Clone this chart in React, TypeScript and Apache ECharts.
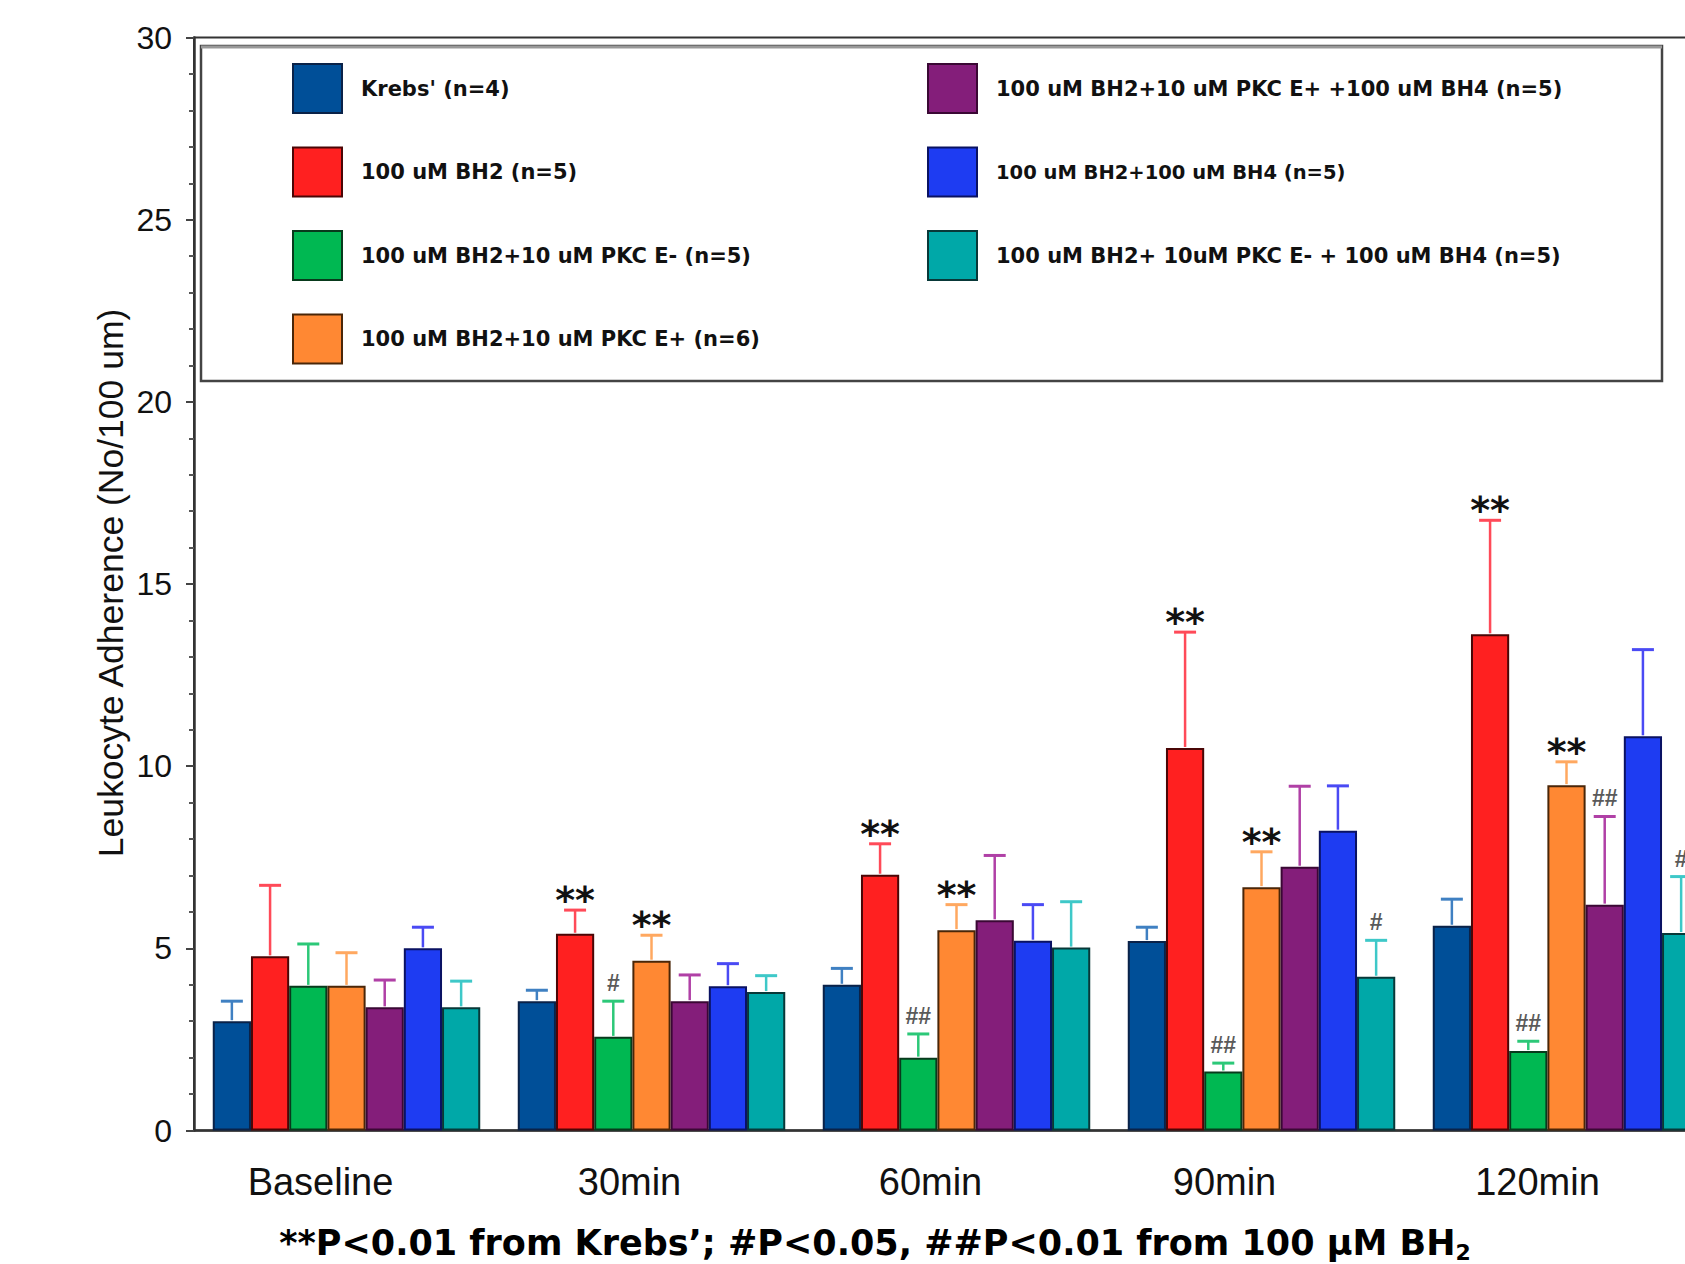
import React, { useEffect, useRef } from 'react';
import * as echarts from 'echarts';

const categories = ['Baseline', '30min', '60min', '90min', '120min'];

const seriesNames = [
  "Krebs' (n=4)",
  '100 uM BH2 (n=5)',
  '100 uM BH2+10 uM PKC E- (n=5)',
  '100 uM BH2+10 uM PKC E+ (n=6)',
  '100 uM BH2+10 uM PKC E+ +100 uM BH4 (n=5)',
  '100 uM BH2+100 uM BH4 (n=5)',
  '100 uM BH2+ 10uM PKC E- + 100 uM BH4 (n=5)',
];

// means
const krebs = [3.0, 3.55, 4.0, 5.2, 5.62];
const bh2 = [4.78, 5.4, 7.02, 10.5, 13.62];
const pkcMinus = [3.97, 2.57, 2.0, 1.62, 2.18];
const pkcPlus = [3.97, 4.66, 5.5, 6.68, 9.48];
const pkcPlusBH4 = [3.38, 3.55, 5.77, 7.24, 6.2];
const bh4 = [5.0, 3.96, 5.21, 8.23, 10.82];
const pkcMinusBH4 = [3.38, 3.8, 5.02, 4.22, 5.42];

// upper error (SD)
const krebsErr = [0.55, 0.3, 0.45, 0.38, 0.73];
const bh2Err = [1.95, 0.65, 0.85, 3.18, 3.13];
const pkcMinusErr = [1.15, 0.98, 0.65, 0.23, 0.27];
const pkcPlusErr = [0.91, 0.7, 0.7, 0.97, 0.64];
const pkcPlusBH4Err = [0.75, 0.72, 1.78, 2.21, 2.42];
const bh4Err = [0.58, 0.62, 0.99, 1.23, 2.38];
const pkcMinusBH4Err = [0.72, 0.45, 1.26, 1.0, 1.55];

// significance marks
const krebsNotes = ['', '', '', '', ''];
const bh2Notes = ['', '**', '**', '**', '**'];
const pkcMinusNotes = ['', '#', '##', '##', '##'];
const pkcPlusNotes = ['', '**', '**', '**', '**'];
const pkcPlusBH4Notes = ['', '', '', '', '##'];
const bh4Notes = ['', '', '', '', ''];
const pkcMinusBH4Notes = ['', '', '', '#', '#'];

const barColors = ['#004f98', '#ff2020', '#00b852', '#ff8833', '#841e7a', '#1e3cf2', '#00a8a8'];
const borderColors = ['#0a2248', '#4a0606', '#083a1c', '#4a2608', '#3a0834', '#0a1262', '#083838'];
const errColors = ['#3f80c2', '#ff4a58', '#2cc878', '#ffa860', '#b040a6', '#4a4af4', '#3ec8c8'];

// how far each category label sits left of its group centre (px)
const labelShift = [26, 22, 26, 37, 29];

const CAT_GAP = 0.123;

export default function App() {
  const ref = useRef<HTMLDivElement>(null);

  useEffect(() => {
    if (!ref.current) return;
    const chart = echarts.init(ref.current, null, { renderer: 'svg' });

    const means = [krebs, bh2, pkcMinus, pkcPlus, pkcPlusBH4, bh4, pkcMinusBH4];
    const errs = [krebsErr, bh2Err, pkcMinusErr, pkcPlusErr, pkcPlusBH4Err, bh4Err, pkcMinusBH4Err];
    const notes = [krebsNotes, bh2Notes, pkcMinusNotes, pkcPlusNotes, pkcPlusBH4Notes, bh4Notes, pkcMinusBH4Notes];
    const nSeries = means.length;

    const errData: number[][] = [];
    for (let s = 0; s < nSeries; s++) {
      for (let c = 0; c < categories.length; c++) {
        errData.push([c, means[s][c], means[s][c] + errs[s][c], s]);
      }
    }

    const font = "'Liberation Sans', Arial, sans-serif";
    const wideBold = "'DejaVu Sans', 'Liberation Sans', Arial, sans-serif";

    const barSeries = means.map((d, i) => ({
      type: 'bar',
      name: seriesNames[i],
      data: d,
      barGap: '0%',
      barCategoryGap: (CAT_GAP * 100).toFixed(1) + '%',
      itemStyle: { color: barColors[i], borderColor: borderColors[i], borderWidth: 2 },
      emphasis: { disabled: true },
    }));

    const legendText = {
      fontFamily: wideBold,
      fontWeight: 'bold',
      fontSize: 21,
      color: '#111',
      padding: [0, 0, 0, 14],
    };

    const labelRich: any = {};
    labelShift.forEach((sh, i) => {
      labelRich['l' + i] = {
        fontFamily: font,
        fontSize: 38,
        color: '#111',
        padding: [0, sh * 2, 0, 0],
      };
    });

    const option: any = {
      animation: false,
      backgroundColor: '#ffffff',
      grid: {
        left: 194,
        top: 37.6,
        right: 41,
        bottom: 133.5,
        show: true,
        borderColor: '#333',
        borderWidth: 2,
        backgroundColor: 'transparent',
      },
      legend: [
        {
          data: seriesNames.slice(0, 4),
          orient: 'vertical',
          left: 292,
          top: 63,
          padding: 0,
          itemWidth: 49,
          itemHeight: 49,
          itemGap: 32.5,
          icon: 'rect',
          selectedMode: false,
          textStyle: legendText,
        },
        {
          data: [
            seriesNames[4],
            { name: seriesNames[5], textStyle: { fontSize: 19.5 } },
            seriesNames[6],
          ],
          orient: 'vertical',
          left: 927,
          top: 63,
          padding: 0,
          itemWidth: 49,
          itemHeight: 49,
          itemGap: 32.5,
          icon: 'rect',
          selectedMode: false,
          textStyle: legendText,
        },
      ],
      xAxis: {
        type: 'category',
        data: categories,
        axisLine: { show: true, lineStyle: { color: '#333', width: 2.5 } },
        axisTick: { show: false },
        axisLabel: {
          fontFamily: font,
          fontSize: 38,
          color: '#111',
          margin: 32,
          formatter: (v: string, i: number) => '{l' + i + '|' + v + '}',
          rich: labelRich,
        },
      },
      yAxis: {
        type: 'value',
        min: 0,
        max: 30,
        interval: 5,
        axisLine: { show: true, lineStyle: { color: '#333', width: 2.5 } },
        axisTick: { show: true, length: 8, lineStyle: { color: '#444', width: 2 } },
        minorTick: { show: true, splitNumber: 5, length: 5, lineStyle: { color: '#555', width: 2 } },
        splitLine: { show: false },
        axisLabel: { fontFamily: font, fontSize: 32, color: '#111', margin: 22 },
      },
      series: [
        ...barSeries,
        {
          type: 'custom',
          name: 'errorbars',
          data: errData,
          encode: { x: 0, y: 2 },
          z: 5,
          silent: true,
          renderItem: (params: any, api: any) => {
            const c = api.value(0);
            const s = api.value(3);
            const base = api.coord([c, api.value(1)]);
            const top = api.coord([c, api.value(2)]);
            const band = api.size([1, 0])[0];
            const bw = (band * (1 - CAT_GAP)) / nSeries;
            const x = base[0] + (s - (nSeries - 1) / 2) * bw;
            const children: any[] = [
              {
                type: 'line',
                shape: { x1: x, y1: base[1] - 1, x2: x, y2: top[1] },
                style: { stroke: errColors[s], lineWidth: 2.5 },
              },
              {
                type: 'line',
                shape: { x1: x - 11, y1: top[1], x2: x + 11, y2: top[1] },
                style: { stroke: errColors[s], lineWidth: 3 },
              },
            ];
            const note = notes[s][c];
            if (note) {
              const star = note.indexOf('*') >= 0;
              children.push({
                type: 'text',
                x: x,
                y: star ? top[1] - 10 : top[1] - 18,
                style: {
                  text: note,
                  align: 'center',
                  verticalAlign: 'middle',
                  fontFamily: star ? wideBold : font,
                  fontWeight: 'bold',
                  fontSize: star ? 38 : 23,
                  fill: star ? '#111' : '#5a5a5a',
                },
              });
            }
            return { type: 'group', children };
          },
        },
      ],
      graphic: [
        {
          type: 'rect',
          shape: { x: 201, y: 46, width: 1461, height: 335 },
          style: { fill: 'none', stroke: '#444', lineWidth: 2.5 },
          z: 10,
        },
        {
          type: 'line',
          shape: { x1: 201, y1: 47, x2: 1662, y2: 47 },
          style: { stroke: '#999', lineWidth: 3 },
          z: 11,
        },
        {
          type: 'text',
          x: 111,
          y: 583,
          rotation: Math.PI / 2,
          style: {
            text: 'Leukocyte Adherence (No/100 um)',
            align: 'center',
            verticalAlign: 'middle',
            fontFamily: font,
            fontSize: 35.5,
            fill: '#111',
          },
        },
        {
          type: 'text',
          x: 875,
          y: 1243,
          style: {
            text: '{a|**P<0.01 from Krebs’; #P<0.05, ##P<0.01 from 100 μM BH}{s|2}',
            align: 'center',
            verticalAlign: 'middle',
            rich: {
              a: { fontFamily: wideBold, fontWeight: 'bold', fontSize: 35, lineHeight: 40, fill: '#000' },
              s: { fontFamily: wideBold, fontWeight: 'bold', fontSize: 22, lineHeight: 14, verticalAlign: 'bottom', fill: '#000' },
            },
          },
        },
      ],
    };

    chart.setOption(option);
    return () => chart.dispose();
  }, []);

  return (
    <div
      style={{
        position: 'absolute',
        left: 0,
        top: 0,
        width: 1685,
        height: 1264,
        overflow: 'hidden',
        background: '#fff',
      }}
    >
      <div ref={ref} style={{ width: 1760, height: 1264 }} />
    </div>
  );
}
